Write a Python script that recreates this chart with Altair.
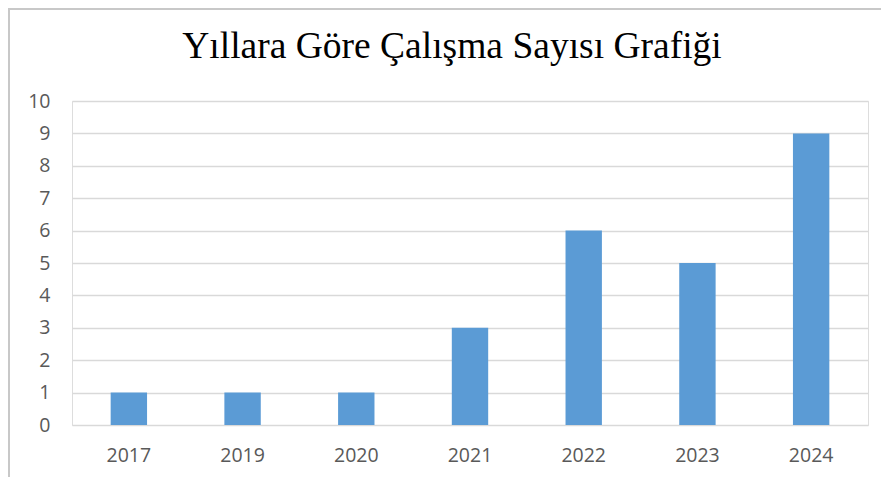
import altair as alt
import pandas as pd

years = ["2017", "2019", "2020", "2021", "2022", "2023", "2024"]
counts = [1, 1, 1, 3, 6, 5, 9]

df = pd.DataFrame({"Yıl": years, "Sayı": counts})

W, H = 796, 324
PL, PT, PR, PB = 64, 93, 13, 52

bars = alt.Chart(df).mark_bar(color="#5B9BD5").encode(
    x=alt.X("Yıl:N", sort=years, title=None,
            scale=alt.Scale(paddingInner=0.68, paddingOuter=0.34),
            axis=alt.Axis(labelAngle=0, labelFont="Open Sans", labelFontSize=19.5,
                          labelColor="#595959", labelPadding=21, ticks=False,
                          domain=False, grid=False)),
    y=alt.Y("Sayı:Q", title=None,
            scale=alt.Scale(domain=[0, 10], nice=False),
            axis=alt.Axis(values=list(range(0, 11)), labelFont="Open Sans",
                          labelFontSize=19.5, labelColor="#595959", labelPadding=22,
                          ticks=False, domain=False, grid=True,
                          gridColor="#d9d9d9", gridWidth=1.6)),
)

frame_top = alt.Chart(df).mark_rule(color="#c8c8c8", strokeWidth=1.5, clip=False).encode(
    x=alt.value(-PL + 0.75), x2=alt.value(W + PR), y=alt.value(-PT + 0.75)
)
frame_left = alt.Chart(df).mark_rule(color="#c8c8c8", strokeWidth=1.5, clip=False).encode(
    x=alt.value(-PL + 0.75), y=alt.value(-PT + 0.75), y2=alt.value(H + PB)
)

chart = alt.layer(bars, frame_top, frame_left).properties(
    width=W, height=H,
    autosize=alt.AutoSizeParams(type="none"),
    padding={"left": PL, "top": PT, "right": PR, "bottom": PB},
    title=alt.Title("Yıllara Göre Çalışma Sayısı Grafiği", font="Liberation Serif",
                    fontSize=37.5, fontWeight="normal", color="#000000",
                    anchor="middle", baseline="alphabetic", dx=-18, offset=-87),
).configure_view(stroke=None).configure(background="white")

chart.save("out.html", embed_options={"renderer": "svg", "actions": False})
